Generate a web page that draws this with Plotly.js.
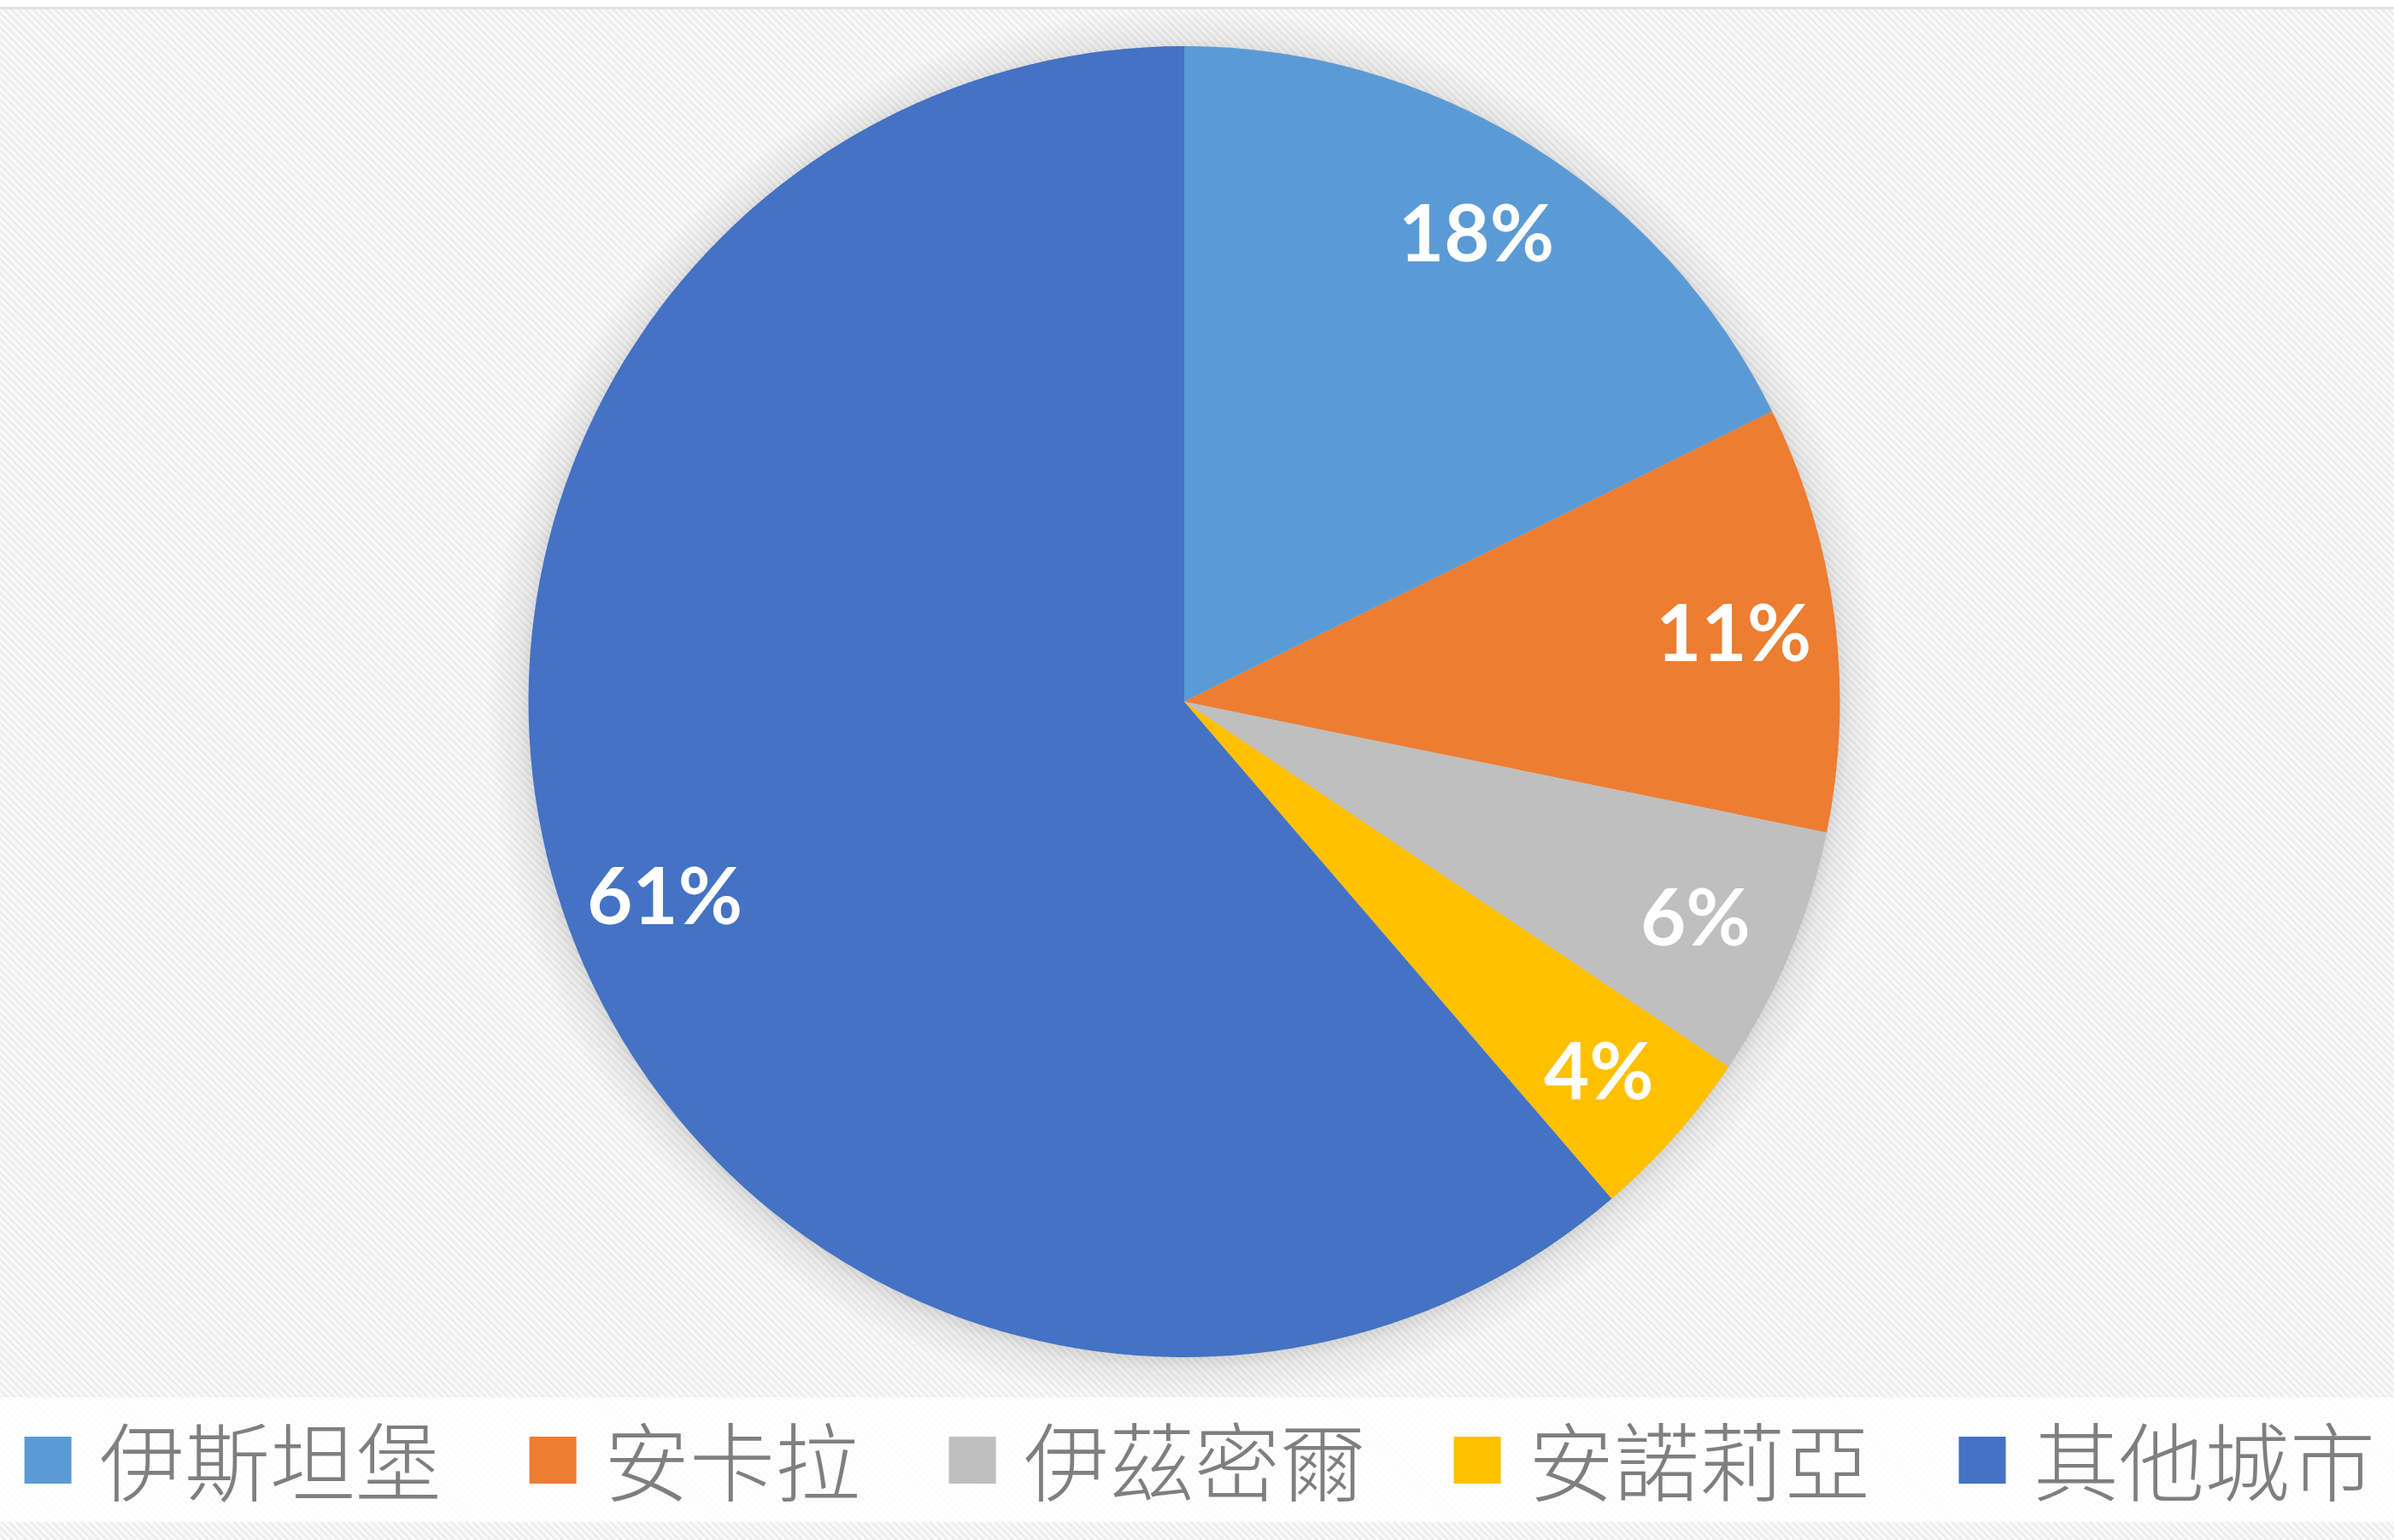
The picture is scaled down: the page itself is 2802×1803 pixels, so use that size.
<!DOCTYPE html>
<html>
<head>
<meta charset="utf-8">
<script src="https://cdn.plot.ly/plotly-3.0.1.min.js"></script>
<style>
  html, body { margin: 0; padding: 0; background: #ffffff; }
  #chart { width: 2802px; height: 1803px; }
</style>
</head>
<body>
<div id="chart"></div>
<script>
// ---- data ----
const categories = ['伊斯坦堡', '安卡拉', '伊茲密爾', '安諾莉亞', '其他城市'];
const shares = [17.7, 10.5, 6.2, 4.3, 61.3];
const colors = ['#5B9BD5', '#ED7D31', '#BFBFBF', '#FFC000', '#4472C4'];

// ---- layout geometry (pixels) ----
const W = 2802, H = 1803;
const CX = 1386, CY = 821.5, R = 767.5;
const LABEL_R = 0.845;
const LEG = { startX: 28.6, marker: 55, markerTop: 1682, textOffset: 85, gapAfter: 106, textY: 1706, fontSize: 100 };
const BAND = { top: 1636, bottom: 1782 };

const px = x => x / W;
const py = y => 1 - y / H;

// background: diagonal texture, top rule, soft shadow around pie
const bgSvg =
  "<svg xmlns='http://www.w3.org/2000/svg' width='" + W + "' height='" + H + "'>" +
  "<defs>" +
  "<pattern id='p' width='6' height='6' patternUnits='userSpaceOnUse' patternTransform='rotate(-45)'>" +
  "<rect width='6' height='6' fill='#fbfbfb'/><rect width='3' height='6' fill='#ededed'/></pattern>" +
  "<radialGradient id='g' cx='" + CX + "' cy='" + (CY + 4) + "' r='" + (R + 50) + "' gradientUnits='userSpaceOnUse'>" +
  "<stop offset='" + ((R - 10) / (R + 50)).toFixed(4) + "' stop-color='#000' stop-opacity='0.16'/>" +
  "<stop offset='" + ((R + 12) / (R + 50)).toFixed(4) + "' stop-color='#000' stop-opacity='0.06'/>" +
  "<stop offset='1' stop-color='#000' stop-opacity='0'/></radialGradient>" +
  "</defs>" +
  "<rect width='" + W + "' height='" + H + "' fill='url(#p)'/>" +
  "<circle cx='" + CX + "' cy='" + (CY + 4) + "' r='" + (R + 50) + "' fill='url(#g)'/>" +
  "<rect width='" + W + "' height='8' fill='#ffffff'/>" +
  "<rect y='8' width='" + W + "' height='3' fill='#e3e3e3'/>" +
  "</svg>";

// percentage labels placed at slice mid-angle
const total = shares.reduce((a, b) => a + b, 0);
const annotations = [];
let cum = 0;
shares.forEach((v, i) => {
  const mid = (cum + v / 2) / total * 2 * Math.PI;
  cum += v;
  const x = CX + LABEL_R * R * Math.sin(mid);
  const y = CY - LABEL_R * R * Math.cos(mid);
  annotations.push({
    xref: 'paper', yref: 'paper', x: px(x), y: py(y),
    xanchor: 'center', yanchor: 'middle', showarrow: false,
    text: Math.round(v / total * 100) + '%',
    font: { family: 'Lato, "Open Sans", sans-serif', size: 92, color: '#ffffff', weight: 700 }
  });
});

// legend (text widths measured with the same font)
const ctx = document.createElement('canvas').getContext('2d');
ctx.font = LEG.fontSize + 'px "Noto Sans CJK TC"';
const shapes = [{
  type: 'rect', xref: 'paper', yref: 'paper', layer: 'below',
  x0: 0, x1: 1, y0: py(BAND.bottom), y1: py(BAND.top),
  fillcolor: 'rgba(255,255,255,0.82)', line: { width: 0 }
}];
let lx = LEG.startX;
categories.forEach((c, i) => {
  shapes.push({
    type: 'rect', xref: 'paper', yref: 'paper',
    x0: px(lx), x1: px(lx + LEG.marker), y0: py(LEG.markerTop + LEG.marker), y1: py(LEG.markerTop),
    fillcolor: colors[i], line: { width: 0 }
  });
  annotations.push({
    xref: 'paper', yref: 'paper', x: px(lx + LEG.textOffset), y: py(LEG.textY),
    xanchor: 'left', yanchor: 'middle', showarrow: false, text: c,
    font: { family: '"Noto Sans CJK TC", sans-serif', size: LEG.fontSize, color: '#7f7f7f', weight: 300 }
  });
  lx += LEG.textOffset + ctx.measureText(c).width + LEG.gapAfter;
});

const trace = {
  type: 'pie',
  labels: categories,
  values: shares,
  marker: { colors: colors, line: { width: 0 } },
  sort: false,
  direction: 'clockwise',
  rotation: 0,
  textinfo: 'none',
  hoverinfo: 'label+percent',
  showlegend: false,
  domain: { x: [px(CX - R), px(CX + R)], y: [py(CY + R), py(CY - R)] }
};

const layout = {
  width: W, height: H,
  margin: { l: 0, r: 0, t: 0, b: 0, pad: 0 },
  paper_bgcolor: '#f6f6f6',
  showlegend: false,
  images: [{
    source: 'data:image/svg+xml;charset=utf-8,' + encodeURIComponent(bgSvg),
    xref: 'paper', yref: 'paper', x: 0, y: 1, sizex: 1, sizey: 1,
    xanchor: 'left', yanchor: 'top', sizing: 'stretch', layer: 'below'
  }],
  shapes: shapes,
  annotations: annotations
};

Plotly.newPlot('chart', [trace], layout, { staticPlot: true, displayModeBar: false });
</script>
</body>
</html>
